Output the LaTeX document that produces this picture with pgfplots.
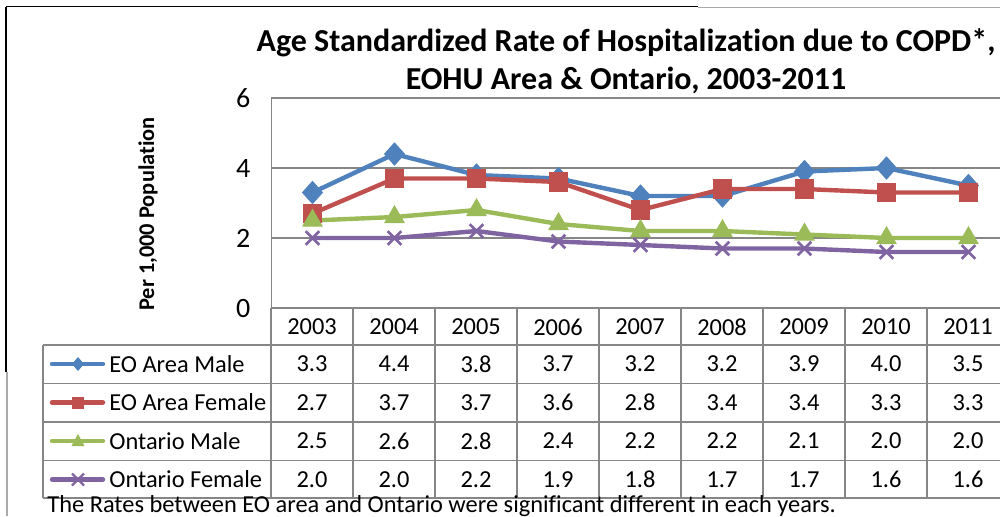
\documentclass[border=0pt]{standalone}
\usepackage{pgfplots}
\pgfplotsset{compat=1.18}
\usepackage{fontspec}
\setmainfont{Carlito}[Ligatures={NoCommon}]
\definecolor{cBlue}{HTML}{4F81BD}
\definecolor{cRed}{HTML}{C0504D}
\definecolor{cGreen}{HTML}{9BBB59}
\definecolor{cPurple}{HTML}{8064A2}
\definecolor{gridc}{HTML}{868686}
\newcommand\tabfont{\fontsize{12.2}{14}\selectfont}

\begin{document}
\begin{tikzpicture}
% page = 1000 x 516 px, 1 px = 0.5pt
\useasboundingbox (0,0) rectangle (500pt,-258pt);
\clip (0,0) rectangle (500pt,-258pt);

\begin{axis}[
    at={(135.75pt,-154pt)}, anchor=south west,
    scale only axis, width=369pt, height=105pt,
    xmin=2002.5, xmax=2011.5,
    ymin=0, ymax=6,
    xtick=\empty,
    ytick={0,2,4,6},
    ymajorgrids,
    grid style={gridc, line width=0.75pt},
    axis line style={gridc, line width=0.75pt},
    ytick style={draw=none},
    /pgf/number format/assume math mode=true,
    yticklabel style={font=\fontsize{14}{16}\selectfont, xshift=-7pt},
    clip=false,
]
\addplot[cBlue, line width=2.2pt, mark=diamond*, mark size=5.5pt,
    mark options={fill=cBlue, xscale=1.2, line width=0.5pt}]
    coordinates {(2003,3.3) (2004,4.4) (2005,3.8) (2006,3.7) (2007,3.2)
                 (2008,3.2) (2009,3.9) (2010,4.0) (2011,3.5)};
\addplot[cRed, line width=2.2pt, mark=square*, mark size=4.7pt,
    mark options={fill=cRed, line width=0.5pt}]
    coordinates {(2003,2.7) (2004,3.7) (2005,3.7) (2006,3.6) (2007,2.8)
                 (2008,3.4) (2009,3.4) (2010,3.3) (2011,3.3)};
\addplot[cGreen, line width=2.2pt, mark=triangle*, mark size=5.5pt,
    mark options={fill=cGreen, line width=0.5pt}]
    coordinates {(2003,2.5) (2004,2.6) (2005,2.8) (2006,2.4) (2007,2.2)
                 (2008,2.2) (2009,2.1) (2010,2.0) (2011,2.0)};
\addplot[cPurple, line width=2.2pt, mark=x, mark size=4.8pt,
    mark options={line width=1.4pt}]
    coordinates {(2003,2.0) (2004,2.0) (2005,2.2) (2006,1.9) (2007,1.8)
                 (2008,1.7) (2009,1.7) (2010,1.6) (2011,1.6)};
\end{axis}

\begin{scope}[x=0.5pt, y=-0.5pt]
  % outer frame remains
  \draw[black, line width=0.6pt] (6,6.5) -- (698,6.5);
  \draw[gridc!70, line width=0.6pt] (698,7.5) -- (1000,7.5);
  \draw[black, line width=0.6pt] (6,6.5) -- (6,372);
  \draw[gridc!70, line width=0.6pt] (7,372) -- (7,516);

  % title
  \node[font=\bfseries\fontsize{16}{19}\selectfont, align=center]
    at (626,61) {Age Standardized Rate of Hospitalization due to COPD*,\\EOHU Area \& Ontario, 2003-2011};
  % y label
  \node[rotate=90, font=\bfseries\fontsize{11.2}{13}\selectfont] at (148,214) {Per 1,000 Population};

  % data table grid
  \foreach \k in {0,...,9}
    \draw[gridc, line width=0.75pt] (271+82*\k,308) -- (271+82*\k,498);
  \foreach \yy in {345,383.5,422,460.5,498}
    \draw[gridc, line width=0.75pt] (43,\yy) -- (1010,\yy);
  \draw[gridc, line width=0.75pt] (43,345) -- (43,498);

  % header
  \foreach \yr [count=\i from 0] in {2003,2004,2005,2006,2007,2008,2009,2010,2011}
    \node[font=\tabfont] at (312+82*\i,327) {\yr};

  % legend keys
  \draw[cBlue, line width=2.2pt, line cap=round] (52,364) -- (103,364);
  \fill[cBlue] (78,357) -- (84,364) -- (78,371) -- (72,364) -- cycle;
  \draw[cRed, line width=2.2pt, line cap=round] (52,402.5) -- (103,402.5);
  \fill[cRed] (72,396.5) rectangle (84,408.5);
  \draw[cGreen, line width=2.2pt, line cap=round] (52,441) -- (103,441);
  \fill[cGreen] (78,434) -- (84.5,446) -- (71.5,446) -- cycle;
  \draw[cPurple, line width=2.2pt, line cap=round] (52,479.5) -- (103,479.5);
  \draw[cPurple, line width=1.2pt] (72,473.5) -- (84,485.5) (72,485.5) -- (84,473.5);

  \node[font=\tabfont, anchor=west, inner sep=0] at (109,364) {EO Area Male};
  \node[font=\tabfont, anchor=west, inner sep=0] at (109,402.5) {EO Area Female};
  \node[font=\tabfont, anchor=west, inner sep=0] at (109,441) {Ontario Male};
  \node[font=\tabfont, anchor=west, inner sep=0] at (109,479.5) {Ontario Female};

  % table values
  \foreach \v [count=\i from 0] in {3.3,4.4,3.8,3.7,3.2,3.2,3.9,4.0,3.5}
    \node[font=\tabfont] at (312+82*\i,364) {\v};
  \foreach \v [count=\i from 0] in {2.7,3.7,3.7,3.6,2.8,3.4,3.4,3.3,3.3}
    \node[font=\tabfont] at (312+82*\i,402.5) {\v};
  \foreach \v [count=\i from 0] in {2.5,2.6,2.8,2.4,2.2,2.2,2.1,2.0,2.0}
    \node[font=\tabfont] at (312+82*\i,441) {\v};
  \foreach \v [count=\i from 0] in {2.0,2.0,2.2,1.9,1.8,1.7,1.7,1.6,1.6}
    \node[font=\tabfont] at (312+82*\i,479.5) {\v};

  % footnote
  \node[font=\fontsize{12.2}{14}\selectfont, anchor=base west, inner sep=0]
    at (47,512) {The Rates between EO area and Ontario were significant different in each years.};
\end{scope}
\end{tikzpicture}
\end{document}
